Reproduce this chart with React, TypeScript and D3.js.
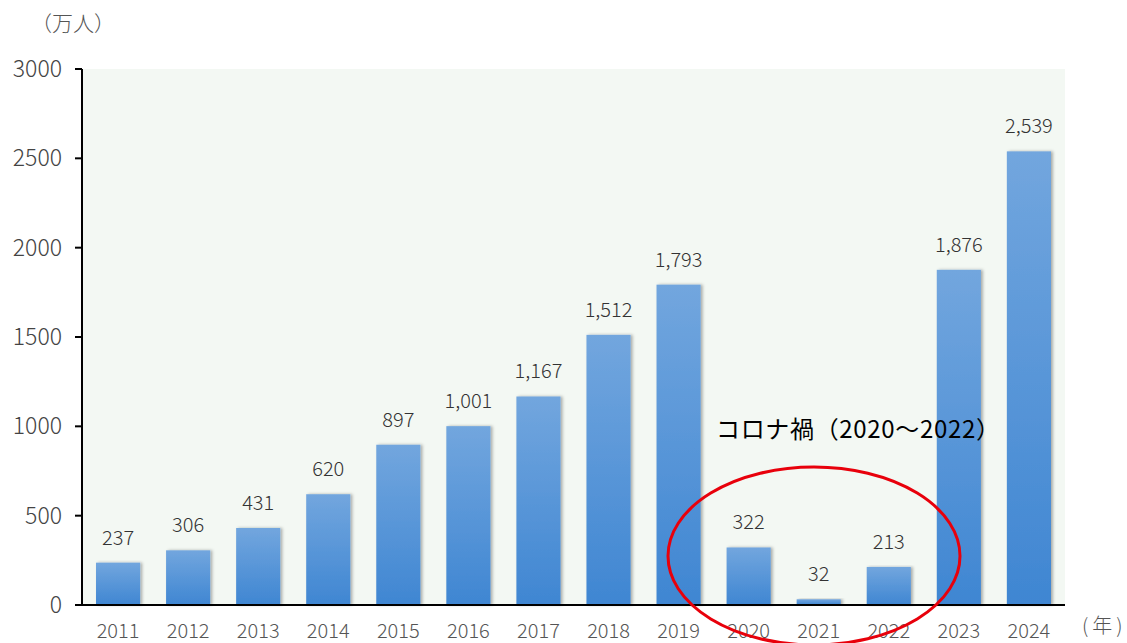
import React from "react";
import * as d3 from "d3";

const years = ["2011","2012","2013","2014","2015","2016","2017","2018","2019","2020","2021","2022","2023","2024"];
const visitors = [237, 306, 431, 620, 897, 1001, 1167, 1512, 1793, 322, 32, 213, 1876, 2539];
const yTicks = [0, 500, 1000, 1500, 2000, 2500, 3000];

const W = 1127, H = 643;
const left = 82, right = 1065, top = 69, bottom = 605;

export default function App() {
  const x = d3.scaleBand().domain(years).range([left, right]).paddingInner(0.37).paddingOuter(0.2);
  const y = d3.scaleLinear().domain([0, 3000]).range([bottom, top]);
  const fmt = d3.format(",");
  const font = "'Noto Sans CJK JP', 'Noto Sans', sans-serif";
  return (
    <svg width={W} height={H} style={{ position: "absolute", left: 0, top: 0 }}>
      <defs>
        <linearGradient id="barg" x1="0" y1="0" x2="0" y2="1">
          <stop offset="0" stopColor="#72a6de" />
          <stop offset="1" stopColor="#3f86d2" />
        </linearGradient>
        <filter id="sh" x="-20%" y="-5%" width="140%" height="110%">
          <feDropShadow dx="2" dy="0" stdDeviation="1.5" floodColor="#000" floodOpacity="0.3" />
        </filter>
      </defs>
      <rect x={0} y={0} width={W} height={H} fill="#fff" />
      <rect x={left} y={top} width={right - left} height={bottom - top} fill="#f3f8f3" />
      {visitors.map((v, i) => (
        <rect key={years[i]} x={x(years[i])} y={y(v)} width={x.bandwidth()} height={bottom - y(v)} fill="url(#barg)" filter="url(#sh)" />
      ))}
      {visitors.map((v, i) => (
        <text key={"l" + i} x={(x(years[i]) as number) + x.bandwidth() / 2} y={y(v) - 18} textAnchor="middle" fontSize={20} fontWeight={300} fill="#333" fontFamily={font}>{fmt(v)}</text>
      ))}
      <line x1={left} x2={left} y1={top} y2={bottom} stroke="#000" strokeWidth={2} />
      <line x1={left - 7} x2={right} y1={bottom} y2={bottom} stroke="#000" strokeWidth={2} />
      {yTicks.map(t => (
        <g key={t}>
          <line x1={left - 7} x2={left} y1={y(t)} y2={y(t)} stroke="#000" strokeWidth={2} />
          <text x={62} y={y(t)} dy="0.35em" textAnchor="end" fontSize={23} fontWeight={300} fill="#444" fontFamily={font}>{t}</text>
        </g>
      ))}
      {years.map(yr => (
        <text key={yr} x={(x(yr) as number) + x.bandwidth() / 2} y={638} textAnchor="middle" fontSize={20} fontWeight={300} fill="#555" fontFamily={font}>{yr}</text>
      ))}
      <text x={1082} y={633} fontSize={20} fontWeight={300} fill="#555" fontFamily={font}>
        <tspan>(</tspan><tspan dx={4}>年</tspan><tspan dx={4}>)</tspan>
      </text>
      <text x={73} y={31} textAnchor="middle" fontSize={21} fontWeight={300} fill="#555" fontFamily={font}>（万人）</text>
      <text x={716} y={438} fontSize={24} fill="#000" fontFamily={font} textLength={284} lengthAdjust="spacing">コロナ禍（2020～2022）</text>
      <ellipse cx={814} cy={556} rx={146} ry={89} fill="none" stroke="#e8000b" strokeWidth={3} />
    </svg>
  );
}
